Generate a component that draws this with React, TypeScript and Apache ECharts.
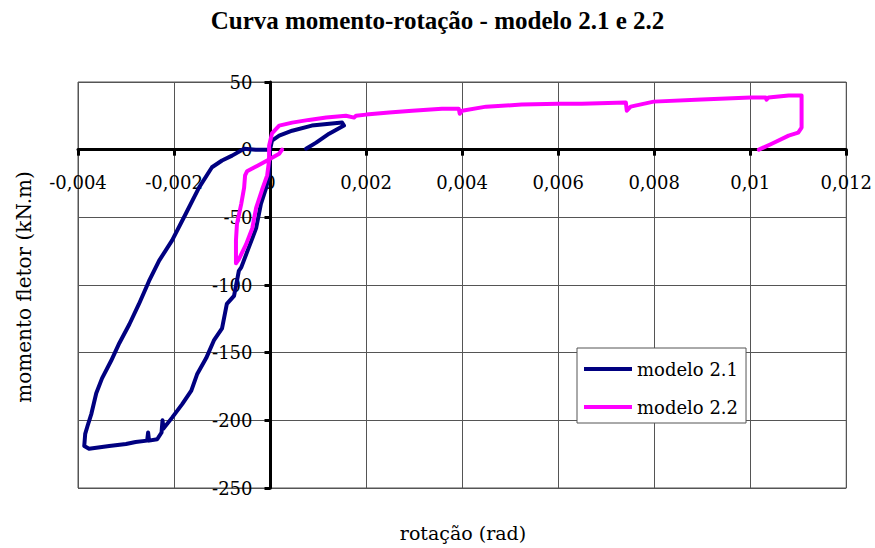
import React, { useEffect, useRef } from "react";
import * as echarts from "echarts";

const titleText = "Curva momento-rotação - modelo 2.1 e 2.2";
const xAxisName = "rotação (rad)";
const yAxisName = "momento fletor (kN.m)";
const seriesNames = ["modelo 2.1", "modelo 2.2"];

const xMin = -0.004;
const xMax = 0.012;
const xStep = 0.002;
const yMin = -250;
const yMax = 50;
const yStep = 50;

// modelo 2.1
const rot21 = [
  0, -0.00002, -0.00008, -0.00019, -0.00029, -0.00044, -0.0006, -0.00065, -0.00075, -0.0009,
  -0.001, -0.00117, -0.00133, -0.00152, -0.00164, -0.00183, -0.00204, -0.00222, -0.00224, -0.00226,
  -0.00235, -0.00252, -0.00254, -0.00256, -0.0028, -0.003, -0.00335, -0.00377, -0.00387, -0.00385,
  -0.0038, -0.00372, -0.00362, -0.0035, -0.00331, -0.00314, -0.00293, -0.00273, -0.00252, -0.00231,
  -0.00204, -0.00175, -0.00148, -0.00121, -0.001, -0.00079, -0.00054, -0.0003, 0, 0.00004,
  0.00019, 0.00046, 0.00087, 0.0015, 0.00154, 0.00123, 0.00096, 0.00075,
];
const mom21 = [
  0, -19, -28, -40, -58, -72, -87, -89.5, -108, -114,
  -132, -141, -154, -166, -178, -188, -198, -206, -200, -209,
  -214, -215, -209, -215, -216, -217.5, -219, -221, -219, -210,
  -204, -195, -180, -169, -156, -143, -129, -114, -97, -82,
  -67, -47, -28, -13, -8, -4.4, 0.7, 0, 0, 6.7,
  10.4, 14, 17.8, 20, 17.8, 11.8, 5.2, 0.7,
];

// modelo 2.2
const rot22 = [
  0.00025, 0.00019, -0.00006, -0.00027, -0.00048, -0.00052, -0.00054, -0.0006, -0.00069, -0.00071,
  -0.00071, -0.00065, -0.0005, -0.00037, -0.00029, -0.00017, -0.00006, -0.00002, -0.00002, 0.00004,
  0.00019, 0.00046, 0.00081, 0.00117, 0.00158, 0.00175, 0.00179, 0.002, 0.00248, 0.00296,
  0.00358, 0.00393, 0.00395, 0.004, 0.0045, 0.00524, 0.00601, 0.00649, 0.00741, 0.00743,
  0.00751, 0.00799, 0.00899, 0.01001, 0.01032, 0.01034, 0.01038, 0.0108, 0.01107, 0.01107,
  0.01107, 0.011, 0.0108, 0.01045, 0.01018,
];
const mom22 = [
  0, -3, -8, -12, -16, -19, -28, -40, -55, -67,
  -84, -81, -70, -58, -43, -30, -19, -8, 3, 12,
  17.8, 20, 22, 23.7, 25.1, 23.7, 25, 25.9, 27.4, 28.8,
  30.3, 30.3, 26.6, 28.8, 31.8, 33.3, 34, 34, 34.8, 28.8,
  31.8, 35.5, 37, 38.5, 38.5, 37, 38.5, 40, 40, 28.8,
  16.3, 12.6, 10.4, 4.4, 0,
];

const pairs = (xs: number[], ys: number[]) => xs.map((x, i) => [x, ys[i]]);

const fmtX = (v: number) => String(Number(v.toFixed(3))).replace(".", ",");

const GRID_LEFT = 78;
const GRID_RIGHT = 27;
const GRID_TOP = 82;
const GRID_BOTTOM = 60;
const W = 875;
const H = 548;

export default function App() {
  const ref = useRef<HTMLDivElement>(null);
  useEffect(() => {
    if (!ref.current) return;
    const chart = echarts.init(ref.current, undefined, { renderer: "svg" });
    const serif = "DejaVu Serif";
    const gw = W - GRID_LEFT - GRID_RIGHT;
    const gh = H - GRID_TOP - GRID_BOTTOM;
    // place axes on the zero lines (labels follow) via offsets
    const xAxisOffset = -(gh * (0 - yMin)) / (yMax - yMin);
    const yAxisOffset = -(gw * (0 - xMin)) / (xMax - xMin);
    chart.setOption({
      animation: false,
      backgroundColor: "#ffffff",
      grid: {
        left: GRID_LEFT,
        right: GRID_RIGHT,
        top: GRID_TOP,
        bottom: GRID_BOTTOM,
        show: true,
        borderColor: "#555555",
        borderWidth: 1,
        backgroundColor: "transparent",
      },
      legend: {
        orient: "vertical",
        left: 577,
        top: 348,
        padding: [11, 8, 6, 7],
        backgroundColor: "#ffffff",
        borderColor: "#555555",
        borderWidth: 1,
        borderRadius: 0,
        itemGap: 18,
        itemWidth: 48,
        itemHeight: 4,
        icon: "rect",
        textStyle: { fontFamily: serif, fontSize: 18, color: "#000", lineHeight: 20, padding: [0, 0, 0, 0] },
        data: seriesNames,
      },
      graphic: [
        {
          type: "text",
          left: "center",
          top: 8,
          style: {
            text: titleText,
            font: "bold 25px 'Liberation Serif'",
            fill: "#000",
          },
        },
        {
          type: "text",
          x: 463,
          y: 533,
          style: {
            text: xAxisName,
            font: "19px 'DejaVu Serif'",
            fill: "#000",
            align: "center",
            verticalAlign: "middle",
          },
        },
        {
          type: "text",
          x: 24,
          y: 287,
          rotation: Math.PI / 2,
          style: {
            text: yAxisName,
            font: "20px 'DejaVu Serif'",
            fill: "#000",
            align: "center",
            verticalAlign: "middle",
          },
        },
      ],
      xAxis: {
        type: "value",
        position: "bottom",
        offset: xAxisOffset,
        min: xMin,
        max: xMax,
        interval: xStep,
        axisLine: { onZero: false, lineStyle: { color: "#000", width: 3 } },
        axisTick: { show: true, length: 6, inside: false, lineStyle: { color: "#000", width: 3 } },
        axisLabel: {
          margin: 24,
          fontFamily: serif,
          fontSize: 18,
          color: "#000",
          formatter: fmtX,
          showMinLabel: true,
          showMaxLabel: true,
          hideOverlap: false,
        },
        splitLine: { show: true, lineStyle: { color: "#555555", width: 1 } },
      },
      yAxis: {
        type: "value",
        position: "left",
        offset: yAxisOffset,
        min: yMin,
        max: yMax,
        interval: yStep,
        axisLine: { onZero: false, lineStyle: { color: "#000", width: 3 } },
        axisTick: { show: true, length: 6, inside: false, lineStyle: { color: "#000", width: 3 } },
        axisLabel: {
          margin: 18,
          fontFamily: serif,
          fontSize: 18,
          color: "#000",
          showMinLabel: true,
          showMaxLabel: true,
          hideOverlap: false,
        },
        splitLine: { show: true, lineStyle: { color: "#555555", width: 1 } },
      },
      series: [
        {
          name: seriesNames[0],
          type: "line",
          data: pairs(rot21, mom21),
          showSymbol: false,
          symbol: "none",
          color: "#000080",
          lineStyle: { color: "#000080", width: 4, join: "round", cap: "round" },
        },
        {
          name: seriesNames[1],
          type: "line",
          data: pairs(rot22, mom22),
          showSymbol: false,
          symbol: "none",
          color: "#ff00ff",
          lineStyle: { color: "#ff00ff", width: 4, join: "round", cap: "round" },
        },
      ],
    });
    return () => chart.dispose();
  }, []);
  return (
    <div
      ref={ref}
      style={{ position: "fixed", left: 0, top: 0, width: W, height: H, background: "#fff" }}
    />
  );
}
